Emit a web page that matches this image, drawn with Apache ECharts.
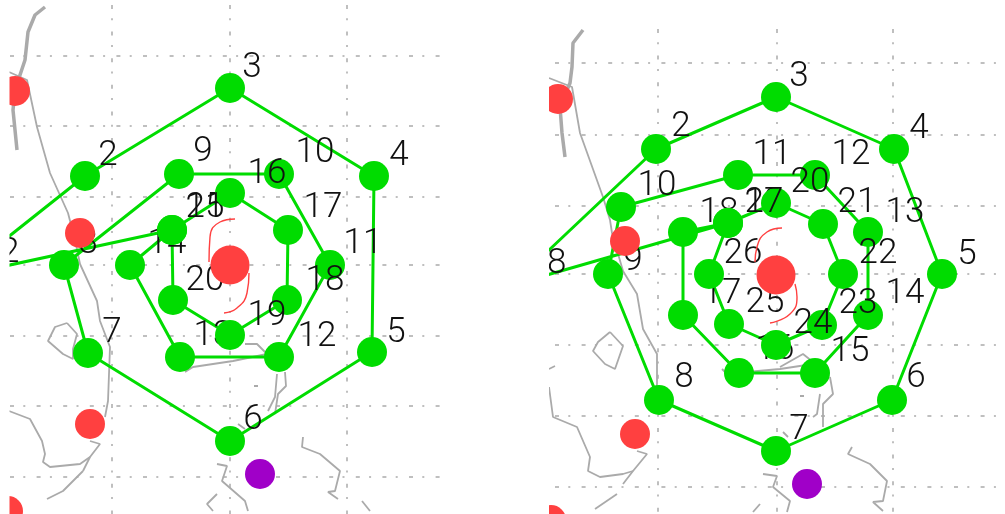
<!DOCTYPE html>
<html><head><meta charset="utf-8">
<style>html,body{margin:0;padding:0;background:#fff}#c{width:1005px;height:514px}</style>
<script src="https://cdn.jsdelivr.net/npm/echarts@6/dist/echarts.min.js"></script>
</head><body><div id="c"></div>
<script>
// Left panel track (points 1..22) and where each number sits
const leftTrack = [[-41,276],[85,176],[230,88],[374,176],[372,352],[230,441],[88,353],[64,265],[179,174],[279,174],[330,265],[279,357],[180,357],[130,265],[172,230],[230,193],[288,230],[287,300],[230,335],[173,300],[172,230],[-41,276]];
const leftNumbers = [[-17,254],[108,156],[252,68],[399,156],[396,333],[253,420],[112,333],[88,244],[203,152],[315,153],[363,244],[317,337],[213,336],[167,244],[205,208],[267,174],[323,208],[325,281],[267,316],[205,281],[205,208],[0,253]];
// Right panel track (points 1..28)
const rightTrack = [[512,285],[656,149],[776,97],[894,149],[942,274],[892,400],[776,451],[659,400],[608,274],[621,207],[738,175],[815,175],[868,232],[868,315],[815,373],[739,373],[683,315],[683,232],[728,223],[776,203],[823,224],[843,274],[822,325],[776,345],[729,324],[709,274],[728,223],[512,285]];
const rightNumbers = [[536,263],[681,127],[799,77],[919,129],[967,255],[916,378],[799,430],[684,378],[633,261],[657,186],[772,155],[851,155],[905,213],[905,294],[850,352],[775,350],[722,294],[719,213],[764,203],[810,183],[857,203],[878,254],[858,304],[813,324],[765,303],[743,254],[764,203],[547,264]];
// Other stations and the storm centre
const leftRedDots = [[15,91],[80,233],[90,424],[8,511]];
const rightRedDots = [[558,99],[625,241],[635,434],[551,520]];
const leftCentre = [[230,265]];
const rightCentre = [[776,275]];
const leftPurple = [[260,474]];
const rightPurple = [[807,484]];
const leftSpiral = [[[235,219],[220,222],[210,237],[209,262]],[[249,273],[247,293],[237,308],[224,313]]];
const rightSpiral = [[[782,228],[767,232],[757,247],[755,262]],[[795,284],[797,297],[790,314],[770,323]]];
// Graticule
const leftGridX = [112,230,347];
const leftGridY = [56,126,197,265,336,406,477];
const rightGridX = [658,777,893];
const rightGridY = [63,135,206,274,345,416,487];
// Coast outlines: the first list of each panel is the heavier stretch of coast
const leftCoastHeavy = [[[45,7],[35,15],[28,32],[25,60],[15,90],[13,110],[17,150]]];
const rightCoastHeavy = [[[583,30],[573,43],[572,67],[570,83],[560,107],[562,133],[565,157]]];
const leftCoast = [
 [[9,72],[27,80],[37,127],[50,173],[68,213],[75,240],[80,264],[97,301],[100,321],[110,347],[108,401],[105,417]],
 [[90,441],[100,444],[90,457],[83,471]],
 [[83,471],[63,491],[47,499]],
 [[9,411],[30,419],[42,441],[45,454],[43,462],[50,467],[80,464],[90,457]],
 [[67,323],[77,334],[73,349],[73,359],[63,354],[48,341],[55,327],[67,323]],
 [[245,344],[257,344],[267,354],[233,361],[193,367],[185,372]],
 [[277,374],[275,397],[268,411]],
 [[285,372],[286,386],[278,394],[275,414]],
 [[254,386],[256,384],[258,386],[256,388],[254,386]],
 [[238,424],[245,429]],
 [[303,437],[302,447],[320,454],[340,471],[335,491],[328,492],[338,499]],
 [[362,501],[370,511]],
 [[217,464],[227,466],[222,481],[245,501],[248,511]],
 [[217,494],[207,504],[213,511]]
];
const rightCoast = [
 [[549,78],[572,87],[580,133],[603,197],[610,220],[612,233],[623,271],[637,294],[643,329],[657,354],[657,384],[653,411]],
 [[637,451],[647,454],[633,471],[623,484]],
 [[617,494],[595,509]],
 [[549,387],[553,417],[577,427],[590,457],[588,471],[600,477],[623,474],[633,471]],
 [[549,369],[555,366]],
 [[610,332],[623,346],[615,369],[605,364],[593,351],[598,342],[610,332]],
 [[722,369],[730,377],[747,372],[780,369],[813,364]],
 [[780,367],[803,354],[813,362]],
 [[830,377],[833,394],[823,404],[823,427]],
 [[820,394],[817,414],[813,417]],
 [[800,396],[802,394],[804,396],[802,398],[800,396]],
 [[783,432],[788,437]],
 [[852,447],[848,454],[870,464],[887,481],[883,501],[873,502],[883,511]],
 [[763,474],[777,476],[773,487],[790,501],[787,512]],
 [[760,504],[753,512]]
];

const GREEN='#00dc00', RED='#ff4040', PURPLE='#a000c8', GREY='#aaaaaa';
const series=[];
function panel(idx,track,numbers,redDots,centre,purple,spiral,coast,heavy,gx,gy,xr,yr){
  const ax={xAxisIndex:idx,yAxisIndex:idx,animation:false,silent:true};
  gx.forEach(x=>series.push({type:'line',...ax,z:1,symbol:'none',clip:false,data:[[x,yr[0]],[x,yr[1]]],lineStyle:{color:GREY,width:1.5,type:[4,9.3,2,11.3]}}));
  gy.forEach(y=>series.push({type:'line',...ax,z:1,symbol:'none',clip:false,data:[[xr[0],y],[xr[1],y]],lineStyle:{color:GREY,width:1.5,type:[4,9.3,2,11.3]}}));
  coast.forEach(c=>series.push({type:'line',...ax,z:2,symbol:'none',clip:false,data:c,lineStyle:{color:GREY,width:1.8}}));
  heavy.forEach(c=>series.push({type:'line',...ax,z:2,symbol:'none',clip:false,data:c,lineStyle:{color:GREY,width:3.5}}));
  series.push({type:'line',...ax,z:3,symbol:'none',clip:false,data:track,lineStyle:{color:GREEN,width:3}});
  track.forEach((p,i)=>{
    const n=numbers[i];
    series.push({type:'scatter',...ax,z:4+i,clip:false,symbol:'circle',symbolSize:30,itemStyle:{color:GREEN,opacity:1},data:[p],
      label:{show:true,position:'inside',offset:[n[0]-p[0],n[1]-p[1]],formatter:String(i+1),fontFamily:'Roboto',fontWeight:300,fontSize:35,color:'#111'}});
  });
  series.push({type:'scatter',...ax,z:60,clip:false,symbolSize:30,itemStyle:{color:RED,opacity:1},data:redDots});
  series.push({type:'scatter',...ax,z:60,clip:false,symbolSize:39,itemStyle:{color:RED,opacity:1},data:centre});
  series.push({type:'scatter',...ax,z:60,clip:false,symbolSize:30,itemStyle:{color:PURPLE,opacity:1},data:purple});
  spiral.forEach(s=>series.push({type:'line',...ax,z:61,symbol:'none',clip:false,smooth:true,data:s,lineStyle:{color:RED,width:1.4}}));
}
panel(0,leftTrack,leftNumbers,leftRedDots,leftCentre,leftPurple,leftSpiral,leftCoast,leftCoastHeavy,leftGridX,leftGridY,[10,446],[5,514]);
panel(1,rightTrack,rightNumbers,rightRedDots,rightCentre,rightPurple,rightSpiral,rightCoast,rightCoastHeavy,rightGridX,rightGridY,[555,1005],[29,514]);

const chart=echarts.init(document.getElementById('c'),null,{renderer:'canvas'});
chart.setOption({
  animation:false,backgroundColor:'#fff',
  grid:[{left:0,top:0,width:460,height:514},{left:500,top:0,width:505,height:514}],
  xAxis:[{type:'value',gridIndex:0,min:0,max:460,show:false},{type:'value',gridIndex:1,min:500,max:1005,show:false}],
  yAxis:[{type:'value',gridIndex:0,min:0,max:514,inverse:true,show:false},{type:'value',gridIndex:1,min:0,max:514,inverse:true,show:false}],
  graphic:[
    {type:'rect',z:1000,silent:true,shape:{x:0,y:0,width:9.5,height:514},style:{fill:'#fff'}},
    {type:'rect',z:1000,silent:true,shape:{x:447,y:0,width:102,height:514},style:{fill:'#fff'}}
  ],
  series
});
</script></body></html>
